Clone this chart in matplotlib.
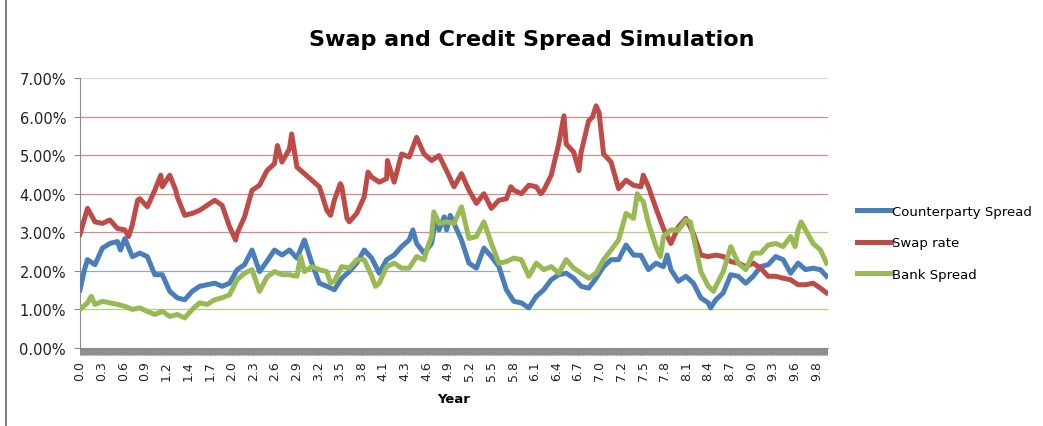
import numpy as np
import matplotlib.pyplot as plt

# ---- data (values in %) ----
cp_years = [0, 0.06, 0.1, 0.2, 0.3, 0.4, 0.5, 0.54, 0.6, 0.7, 0.8, 0.9, 1.0, 1.1, 1.2, 1.3, 1.4,
            1.5, 1.6, 1.7, 1.8, 1.9, 2.0, 2.1, 2.2, 2.3, 2.4, 2.5, 2.6, 2.7, 2.8, 2.9, 3.0, 3.1,
            3.2, 3.3, 3.4, 3.5, 3.6, 3.7, 3.8, 3.9, 4.0, 4.1, 4.2, 4.3, 4.4, 4.45, 4.5, 4.6, 4.7,
            4.76, 4.8, 4.87, 4.9, 4.95, 5.0, 5.1, 5.2, 5.3, 5.4, 5.5, 5.6, 5.7, 5.8, 5.9, 6.0,
            6.1, 6.2, 6.3, 6.4, 6.5, 6.6, 6.7, 6.8, 6.9, 7.0, 7.1, 7.2, 7.3, 7.4, 7.5, 7.6, 7.7,
            7.8, 7.85, 7.9, 8.0, 8.1, 8.2, 8.3, 8.4, 8.43, 8.5, 8.6, 8.7, 8.8, 8.9, 9.0, 9.1,
            9.2, 9.3, 9.4, 9.5, 9.6, 9.7, 9.8, 9.9, 9.98]
cp_spread = [1.51, 2.03, 2.29, 2.16, 2.59, 2.71, 2.76, 2.54, 2.84, 2.37, 2.46, 2.37, 1.90, 1.90,
             1.47, 1.30, 1.25, 1.47, 1.60, 1.64, 1.68, 1.60, 1.68, 2.03, 2.16, 2.54, 1.98, 2.25,
             2.54, 2.41, 2.54, 2.33, 2.80, 2.20, 1.68, 1.60, 1.51, 1.81, 1.98, 2.20, 2.54, 2.33,
             1.94, 2.29, 2.41, 2.63, 2.80, 3.06, 2.71, 2.46, 2.71, 3.40, 3.06, 3.40, 3.06, 3.44,
             3.23, 2.80, 2.20, 2.07, 2.59, 2.37, 2.11, 1.51, 1.21, 1.17, 1.04, 1.34, 1.51, 1.77,
             1.90, 1.94, 1.81, 1.60, 1.55, 1.81, 2.11, 2.29, 2.29, 2.67, 2.41, 2.40, 2.03, 2.20,
             2.11, 2.41, 2.03, 1.73, 1.86, 1.68, 1.30, 1.17, 1.04, 1.25, 1.43, 1.90, 1.86, 1.68,
             1.86, 2.11, 2.16, 2.37, 2.29, 1.94, 2.20, 2.03, 2.07, 2.03, 1.86]

swap_years = [0, 0.1, 0.2, 0.3, 0.4, 0.5, 0.6, 0.65, 0.7, 0.77, 0.8, 0.9, 1.0, 1.08, 1.1, 1.2,
              1.28, 1.3, 1.4, 1.5, 1.6, 1.7, 1.8, 1.9, 2.0, 2.08, 2.1, 2.2, 2.3, 2.4, 2.5, 2.6,
              2.64, 2.7, 2.8, 2.83, 2.9, 3.0, 3.1, 3.2, 3.3, 3.35, 3.4, 3.48, 3.5, 3.57, 3.6, 3.7,
              3.8, 3.85, 3.9, 4.0, 4.1, 4.11, 4.2, 4.3, 4.4, 4.5, 4.6, 4.7, 4.8, 4.9, 5.0, 5.1,
              5.2, 5.3, 5.4, 5.5, 5.6, 5.7, 5.76, 5.8, 5.9, 6.0, 6.1, 6.16, 6.2, 6.3, 6.4, 6.47,
              6.5, 6.6, 6.67, 6.7, 6.8, 6.85, 6.9, 6.94, 7.0, 7.1, 7.2, 7.3, 7.4, 7.5, 7.53, 7.6,
              7.7, 7.8, 7.9, 8.0, 8.1, 8.2, 8.3, 8.4, 8.5, 8.6, 8.7, 8.8, 8.9, 9.0, 9.1, 9.2, 9.3,
              9.4, 9.5, 9.6, 9.7, 9.8, 9.9, 9.98]
swap_rate = [2.95, 3.62, 3.27, 3.23, 3.32, 3.10, 3.06, 2.89, 3.20, 3.83, 3.87, 3.66, 4.09, 4.48,
             4.18, 4.48, 4.09, 3.92, 3.44, 3.49, 3.57, 3.70, 3.83, 3.70, 3.14, 2.80, 2.97, 3.40,
             4.09, 4.22, 4.60, 4.78, 5.25, 4.82, 5.16, 5.55, 4.69, 4.52, 4.35, 4.18, 3.57, 3.44,
             3.83, 4.26, 4.18, 3.36, 3.27, 3.49, 3.92, 4.56, 4.43, 4.30, 4.39, 4.86, 4.30, 5.03,
             4.95, 5.46, 5.03, 4.86, 4.99, 4.60, 4.18, 4.52, 4.09, 3.75, 4.00, 3.62, 3.83, 3.87,
             4.18, 4.09, 4.00, 4.22, 4.18, 4.00, 4.09, 4.48, 5.29, 6.02, 5.29, 5.08, 4.60, 5.08,
             5.89, 5.98, 6.28, 6.10, 5.03, 4.82, 4.13, 4.35, 4.22, 4.18, 4.48, 4.18, 3.62, 3.10,
             2.71, 3.14, 3.36, 2.97, 2.41, 2.37, 2.41, 2.37, 2.24, 2.20, 2.11, 2.20, 2.07, 1.86,
             1.86, 1.81, 1.77, 1.64, 1.64, 1.68, 1.55, 1.43]

bank_years = [0, 0.1, 0.15, 0.2, 0.3, 0.4, 0.5, 0.6, 0.7, 0.8, 0.9, 1.0, 1.1, 1.2, 1.3, 1.4, 1.5,
              1.6, 1.7, 1.8, 1.9, 2.0, 2.1, 2.2, 2.3, 2.4, 2.5, 2.6, 2.7, 2.8, 2.9, 2.95, 3.0, 3.1,
              3.2, 3.3, 3.35, 3.4, 3.5, 3.6, 3.7, 3.8, 3.9, 3.95, 4.0, 4.1, 4.2, 4.3, 4.4, 4.5,
              4.6, 4.65, 4.7, 4.73, 4.8, 4.9, 5.0, 5.1, 5.2, 5.3, 5.4, 5.5, 5.6, 5.7, 5.8, 5.9,
              6.0, 6.1, 6.2, 6.3, 6.4, 6.5, 6.6, 6.7, 6.8, 6.9, 7.0, 7.1, 7.2, 7.3, 7.4, 7.45,
              7.5, 7.53, 7.6, 7.7, 7.76, 7.8, 7.9, 8.0, 8.1, 8.16, 8.2, 8.3, 8.4, 8.47, 8.5, 8.6,
              8.7, 8.8, 8.9, 9.0, 9.1, 9.2, 9.3, 9.4, 9.5, 9.56, 9.6, 9.64, 9.7, 9.8, 9.9, 9.98]
bank_spread = [1.00, 1.17, 1.34, 1.13, 1.21, 1.17, 1.13, 1.08, 1.00, 1.04, 0.95, 0.87, 0.95, 0.82,
               0.87, 0.78, 1.00, 1.17, 1.13, 1.25, 1.30, 1.38, 1.77, 1.94, 2.03, 1.47, 1.84,
               1.98, 1.90, 1.90, 1.86, 2.37, 1.98, 2.11, 2.03, 1.98, 1.68, 1.73, 2.11, 2.07, 2.29,
               2.29, 1.86, 1.60, 1.68, 2.11, 2.20, 2.07, 2.07, 2.37, 2.29, 2.63, 2.89, 3.53, 3.23,
               3.27, 3.23, 3.66, 2.84, 2.89, 3.27, 2.71, 2.20, 2.24, 2.33, 2.29, 1.86, 2.20, 2.03,
               2.11, 1.94, 2.29, 2.07, 1.94, 1.81, 1.94, 2.29, 2.54, 2.80, 3.49, 3.36, 4.00, 3.85,
               3.80, 3.23, 2.63, 2.37, 2.89, 3.06, 3.06, 3.32, 3.27, 2.89, 1.98, 1.60, 1.47, 1.60,
               1.98, 2.63, 2.20, 2.03, 2.46, 2.46, 2.67, 2.71, 2.63, 2.89, 2.63, 3.06, 3.27, 3.06,
               2.71, 2.54, 2.20]

tick_labels = ["0.0", "0.3", "0.6", "0.9", "1.2", "1.4", "1.7", "2.0", "2.3", "2.6", "2.9",
               "3.2", "3.5", "3.8", "4.1", "4.3", "4.6", "4.9", "5.2", "5.5", "5.8", "6.1",
               "6.4", "6.7", "7.0", "7.2", "7.5", "7.8", "8.1", "8.4", "8.7", "9.0", "9.3",
               "9.6", "9.8"]
label_step = 0.2895  # years between labelled categories

blue = "#4A7EBB"
red = "#BE4B48"
green = "#98B954"

fig = plt.figure(figsize=(10.43, 4.27), dpi=100)
ax = fig.add_axes([80 / 1043, 1 - 349 / 427, 748 / 1043, 270 / 427])

# gridlines (coloured as they appear in the picture)
grid = [(7, 0, 10, "#D9D9D9"), (6, 0, 10, "#D98A88"), (5, 0, 10, "#D98A88"),
        (4, 0, 10, "#D98A88"), (3, 0, 4.7, "#D98A88"), (3, 4.7, 10, "#B3CF86"),
        (2, 0, 5.75, "#8FA8CC"), (1, 0, 10, "#B3CF86")]
for y, x0, x1, c in grid:
    ax.hlines(y, x0, x1, colors=c, lw=0.9, zorder=1)

lw = 3.6
ax.plot(cp_years, cp_spread, color=blue, lw=lw, label="Counterparty Spread", zorder=3)
ax.plot(swap_years, swap_rate, color=red, lw=lw, label="Swap rate", zorder=3)
ax.plot(bank_years, bank_spread, color=green, lw=lw, label="Bank Spread", zorder=3)

ax.set_xlim(0, 10)
ax.set_ylim(0, 7)
ax.set_yticks(range(8))
ax.set_yticklabels([f"{v:.2f}%" for v in range(8)], fontsize=10.5, color="#222222")

ax.set_xticks(np.arange(len(tick_labels)) * label_step)
ax.set_xticklabels(tick_labels, rotation=90, fontsize=9, color="#222222")
ax.set_xticks(np.arange(0, 10, 0.01), minor=True)
ax.tick_params(axis="x", which="both", length=5, width=0.7, color="#8C8C8C", pad=4)
ax.tick_params(axis="y", length=4, width=0.8, color="#8C8C8C", pad=6)

for side in ["top", "right"]:
    ax.spines[side].set_visible(False)
ax.spines["left"].set_color("#8C8C8C")
ax.spines["bottom"].set_color("#8C8C8C")

ax.set_xlabel("Year", fontsize=9.5, fontweight="bold", labelpad=8)
fig.text(532 / 1043, 1 - 40 / 427, "Swap and Credit Spread Simulation", ha="center",
         va="center", fontsize=16, fontweight="bold")

fig.legend(loc="center left", bbox_to_anchor=(845 / 1043, 1 - 244 / 427), frameon=False,
           fontsize=9.5, handlelength=2.6, handletextpad=0.1, labelspacing=1.4)

# outer chart border on the left
fig.add_artist(plt.Line2D([6 / 1043, 6 / 1043], [0, 1], color="#7F7F7F", lw=1.5))

fig.savefig("out.png", dpi=100)
